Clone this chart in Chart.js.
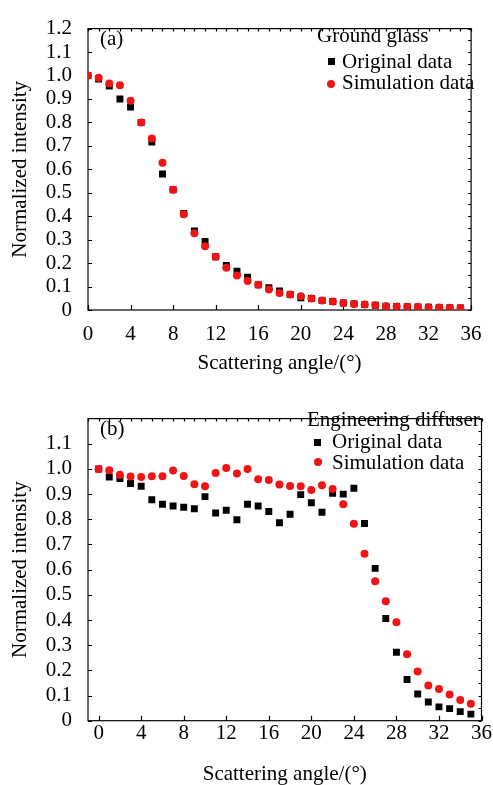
<!DOCTYPE html>
<html>
<head>
<meta charset="utf-8">
<script src="https://cdn.jsdelivr.net/npm/chart.js@4"></script>
<style>
    body { margin: 0; background: #fff; }
    #page { position: relative; width: 493px; height: 785px; overflow: hidden; font-family: 'Liberation Serif', 'Times New Roman', serif; color: #000; }
    canvas { position: absolute; left: 0; }
    .txt { position: absolute; font-size: 21px; line-height: 21px; white-space: nowrap; }
    .sq { position: absolute; width: 7px; height: 7px; background: #000; }
    .dot { position: absolute; width: 8px; height: 8px; border-radius: 50%; background: #f01414; }
</style>
</head>
<body>
<div id="page">
    <canvas id="chartA" width="493" height="390" style="top:0"></canvas>
    <canvas id="chartB" width="493" height="395" style="top:390px"></canvas>

    <div class="txt" style="left:100px; top:27.5px">(a)</div>
    <div class="txt" style="left:317px; top:24.5px">Ground glass</div>
    <div class="sq" style="left:328px; top:58px"></div>
    <div class="txt" style="left:342px; top:51px">Original data</div>
    <div class="dot" style="left:327px; top:80px"></div>
    <div class="txt" style="left:342px; top:71.5px">Simulation data</div>

    <div class="txt" style="left:100px; top:417.5px">(b)</div>
    <div class="txt" style="left:307px; top:408.5px">Engineering diffuser</div>
    <div class="sq" style="left:314px; top:439px"></div>
    <div class="txt" style="left:332px; top:431px">Original data</div>
    <div class="dot" style="left:314px; top:458px"></div>
    <div class="txt" style="left:332px; top:451.5px">Simulation data</div>
</div>
<script>
// scattering angles (deg)
const angles = [0, 1, 2, 3, 4, 5, 6, 7, 8, 9, 10, 11, 12, 13, 14, 15, 16, 17,
    18, 19, 20, 21, 22, 23, 24, 25, 26, 27, 28, 29, 30, 31, 32, 33, 34, 35];

// (a) ground glass
const glassOriginal = [1.0, 0.985, 0.955, 0.90, 0.865, 0.80, 0.716, 0.58, 0.513, 0.412,
    0.337, 0.292, 0.227, 0.19, 0.165, 0.14, 0.108, 0.095, 0.081, 0.066,
    0.052, 0.049, 0.04, 0.036, 0.03, 0.026, 0.023, 0.02, 0.016, 0.015,
    0.014, 0.013, 0.012, 0.011, 0.01, 0.009];
const glassSimulation = [1.0, 0.99, 0.966, 0.958, 0.892, 0.80, 0.731, 0.628, 0.513, 0.408,
    0.327, 0.272, 0.227, 0.18, 0.147, 0.124, 0.108, 0.087, 0.073, 0.066,
    0.059, 0.049, 0.04, 0.036, 0.03, 0.026, 0.023, 0.02, 0.016, 0.015,
    0.014, 0.013, 0.012, 0.011, 0.01, 0.009];

// (b) engineering diffuser
const diffuserOriginal = [1.0, 0.968, 0.962, 0.942, 0.931, 0.878, 0.86, 0.853, 0.848, 0.842,
    0.89, 0.825, 0.836, 0.798, 0.86, 0.853, 0.831, 0.786, 0.82, 0.898,
    0.866, 0.828, 0.903, 0.9, 0.923, 0.783, 0.605, 0.406, 0.272, 0.164,
    0.106, 0.074, 0.055, 0.048, 0.036, 0.026];
const diffuserSimulation = [1.0, 0.995, 0.977, 0.97, 0.968, 0.971, 0.971, 0.994, 0.972, 0.939,
    0.931, 0.984, 1.004, 0.982, 1.0, 0.959, 0.956, 0.938, 0.932, 0.931,
    0.916, 0.935, 0.92, 0.86, 0.782, 0.663, 0.554, 0.474, 0.391, 0.264,
    0.195, 0.14, 0.126, 0.104, 0.082, 0.067];

// tick labels
const xTickLabels = ['0', '4', '8', '12', '16', '20', '24', '28', '32', '36'];
const yTickLabelsA = ['0', '0.1', '0.2', '0.3', '0.4', '0.5', '0.6', '0.7', '0.8', '0.9', '1.0', '1.1', '1.2'];
const yTickLabelsB = ['0', '0.1', '0.2', '0.3', '0.4', '0.5', '0.6', '0.7', '0.8', '0.9', '1.0', '1.1'];

Chart.defaults.font.family = "'Liberation Serif', 'Times New Roman', serif";
Chart.defaults.color = '#000';

// box frame with inward ticks (major on left/bottom, minor on top/right)
const framePlugin = {
    id: 'frame',
    beforeDatasetsDraw(chart) {
        const { ctx, chartArea: a, scales: { x, y } } = chart;
        ctx.save();
        ctx.strokeStyle = '#000';
        ctx.lineWidth = 1.2;
        ctx.strokeRect(a.left, a.top, a.right - a.left, a.bottom - a.top);
        ctx.beginPath();
        x.ticks.forEach(t => {
            const px = Math.round(x.getPixelForValue(t.value)) + 0.5;
            ctx.moveTo(px, a.bottom);
            ctx.lineTo(px, a.bottom - 5);
        });
        y.ticks.forEach(t => {
            const py = Math.round(y.getPixelForValue(t.value)) + 0.5;
            ctx.moveTo(a.left, py);
            ctx.lineTo(a.left + 4, py);
        });
        for (let v = Math.ceil(x.min); v <= x.max; v += 1) {
            const px = Math.round(x.getPixelForValue(v)) + 0.5;
            ctx.moveTo(px, a.top);
            ctx.lineTo(px, a.top + 3);
        }
        for (let i = 0; i * 0.05 <= y.max + 1e-9; i++) {
            const py = Math.round(y.getPixelForValue(i * 0.05)) + 0.5;
            ctx.moveTo(a.right, py);
            ctx.lineTo(a.right - 3, py);
        }
        ctx.stroke();
        ctx.restore();
    }
};

function toPoints(values) {
    return angles.map((a, i) => ({ x: a, y: values[i] }));
}

function createPanel(canvasId, original, simulation, cfg) {
    const ctx = document.getElementById(canvasId).getContext('2d');
    return new Chart(ctx, {
        type: 'scatter',
        data: {
            datasets: [
                {
                    label: 'Simulation data',
                    data: toPoints(simulation),
                    pointStyle: 'circle',
                    pointRadius: 4,
                    backgroundColor: '#f01414',
                    borderWidth: 0
                },
                {
                    label: 'Original data',
                    data: toPoints(original),
                    pointStyle: 'rect',
                    pointRadius: 4.9,
                    backgroundColor: '#000',
                    borderWidth: 0
                }
            ]
        },
        options: {
            responsive: false,
            animation: false,
            layout: { padding: { top: cfg.top, right: 11.5, left: 0, bottom: 0 } },
            plugins: {
                legend: { display: false },
                tooltip: { enabled: false }
            },
            scales: {
                x: {
                    type: 'linear',
                    min: cfg.xMin,
                    max: 36,
                    grid: { display: false, drawTicks: false },
                    border: { display: false },
                    afterBuildTicks: scale => {
                        scale.ticks = xTickLabels.map(v => ({ value: Number(v) }));
                    },
                    afterFit: scale => { scale.height = cfg.xHeight; },
                    ticks: {
                        autoSkip: false,
                        maxRotation: 0,
                        padding: cfg.xTickPad,
                        font: { size: 21 },
                        callback: value => String(value)
                    },
                    title: {
                        display: true,
                        text: 'Scattering angle/(°)',
                        font: { size: 21 },
                        padding: { top: 0, bottom: cfg.xTitlePad }
                    }
                },
                y: {
                    type: 'linear',
                    min: 0,
                    max: 1.2,
                    grid: { display: false, drawTicks: false },
                    border: { display: false },
                    afterBuildTicks: scale => {
                        scale.ticks = cfg.yLabels.map(v => ({ value: Number(v) }));
                    },
                    afterFit: scale => { scale.width = 88; },
                    ticks: {
                        autoSkip: false,
                        padding: 16,
                        font: { size: 21 },
                        callback: (value, index) => cfg.yLabels[index]
                    },
                    title: {
                        display: true,
                        text: 'Normalized intensity',
                        font: { size: 21 },
                        padding: { top: 7.4, bottom: 0 }
                    }
                }
            }
        },
        plugins: [framePlugin]
    });
}

createPanel('chartA', glassOriginal, glassSimulation, {
    top: 19, xMin: 0, xHeight: 80, xTickPad: 11.4, xTitlePad: 14.4, yLabels: yTickLabelsA
});
createPanel('chartB', diffuserOriginal, diffuserSimulation, {
    top: 17, xMin: -1, xHeight: 64.3, xTickPad: 0.4, xTitlePad: -2.1, yLabels: yTickLabelsB
});
</script>
</body>
</html>
